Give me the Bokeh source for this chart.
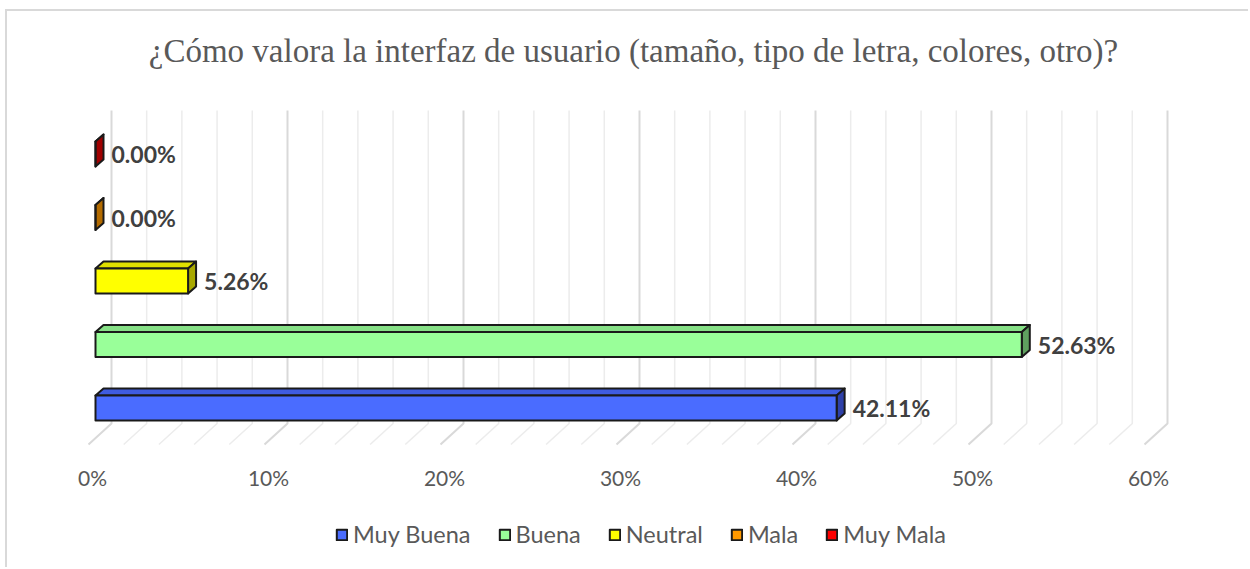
from bokeh.plotting import figure
from bokeh.models import Range1d, Legend, LegendItem, Label
from bokeh.core.properties import value
from bokeh.embed import file_html
from bokeh.resources import INLINE

# ---- data ----
categories = ["Muy Buena", "Buena", "Neutral", "Mala", "Muy Mala"]
percents = [42.11, 52.63, 5.26, 0.00, 0.00]
labels = ["42.11%", "52.63%", "5.26%", "0.00%", "0.00%"]
front_colors = ["#4a6cff", "#99ff99", "#ffff00", "#ff9900", "#ff0000"]
top_colors = ["#3f5ce0", "#86e086", "#e0e000", "#d98000", "#d00000"]
side_colors = ["#2e40a8", "#5fa05f", "#a8a800", "#b36b00", "#a00000"]
tick_values = [0, 10, 20, 30, 40, 50, 60]
tick_labels = ["0%", "10%", "20%", "30%", "40%", "50%", "60%"]
grid_values = list(range(0, 61, 2))
title_text = "¿Cómo valora la interfaz de usuario (tamaño, tipo de letra, colores, otro)?"

# ---- geometry (pixel based styling) ----
OX, OY = 7, 11        # page position of the canvas (inside the chart border)
FW, FH = 1241, 556
BOTTOM = OY + FH      # page y of frame bottom
PX_X = 17.6           # px per percent
PX_Y = 63.5           # px per category
x0 = -(95 - OX) / PX_X
y0 = -(BOTTOM - 407.5) / PX_Y
HALF = 12.5 / PX_Y
DX = 8 / PX_X
DY = 7 / PX_Y
BX = 16 / PX_X
FX = -7 / PX_X
WALL_TOP = (BOTTOM - 110) / PX_Y + y0
WALL_BOT = (BOTTOM - 423) / PX_Y + y0
FLOOR_FRONT = (BOTTOM - 444) / PX_Y + y0
TICK_Y = (BOTTOM - 477) / PX_Y + y0

p = figure(frame_width=FW, frame_height=FH, output_backend="svg", toolbar_location=None,
           x_range=Range1d(x0, x0 + FW / PX_X), y_range=Range1d(y0, y0 + FH / PX_Y),
           x_axis_location=None, y_axis_location=None,
           min_border_left=0, min_border_right=0, min_border_top=0, min_border_bottom=0)
p.outline_line_color = None
p.xgrid.visible = False
p.ygrid.visible = False
p.background_fill_color = "white"
p.border_fill_color = "white"
p.styles = {"border-left": "2px solid #d9d9d9", "border-top": "2px solid #d9d9d9",
            "margin-left": "5px", "margin-top": "9px"}

# back wall + floor gridlines
for g in grid_values:
    major = g % 10 == 0
    p.line([g + BX, g + BX, g + FX], [WALL_TOP, WALL_BOT, FLOOR_FRONT],
           line_color="#d9d9d9" if major else "#ececec",
           line_width=2 if major else 1.5)

# value-axis tick labels
p.text(x=tick_values, y=[TICK_Y] * len(tick_values), text=tick_labels, x_offset=-3,
       text_align="center", text_baseline="middle", text_font=value("Lato"),
       text_font_size="21px", text_color="#595959")

# bars
fronts = []
for i, (v, fc, tc, sc) in enumerate(zip(percents, front_colors, top_colors, side_colors)):
    b, t = i - HALF, i + HALF
    p.patch([0, v, v + DX, DX], [t, t, t + DY, t + DY], fill_color=tc,
            line_color="#1a1a1a", line_width=2, line_join="round")
    p.patch([v, v + DX, v + DX, v], [b, b + DY, t + DY, t], fill_color=sc,
            line_color="#1a1a1a", line_width=2, line_join="round")
    r = p.quad(left=0, right=v, bottom=b, top=t, fill_color=fc,
               line_color="#1a1a1a", line_width=2, line_join="round")
    fronts.append(r)

p.text(x=percents, y=list(range(len(percents))), text=labels, x_offset=16,
       text_baseline="middle", text_align="left", text_font=value("Lato"),
       text_font_style="bold", text_font_size="23px", text_color="#404040")

title = Label(x=633 - OX, y=FH - (50 - OY), x_units="screen", y_units="screen", text=title_text,
              text_align="center", text_baseline="middle", text_font="Liberation Serif",
              text_font_size="33px", text_color="#595959")
p.add_layout(title)

legend = Legend(items=[LegendItem(label=c, renderers=[r]) for c, r in zip(categories, fronts)],
                orientation="horizontal", location=(335 - OX, BOTTOM - 548), padding=0, margin=0,
                spacing=27, label_standoff=5, glyph_width=13, glyph_height=13,
                label_text_font="Lato", label_text_font_size="23.5px",
                label_text_color="#595959", border_line_color=None,
                background_fill_alpha=0)
p.add_layout(legend, "center")

open("out.html", "w").write(file_html(p, INLINE))
